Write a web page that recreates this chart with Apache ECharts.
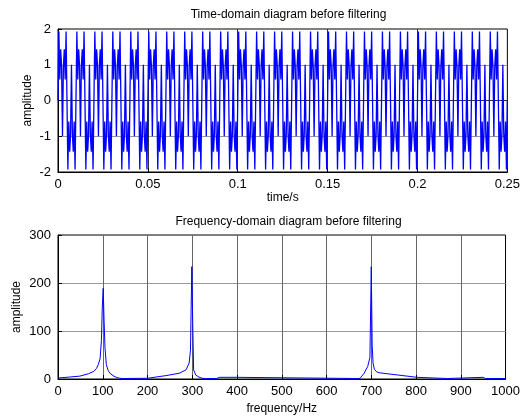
<!DOCTYPE html>
<html>
<head>
<meta charset="utf-8">
<script src="https://cdn.jsdelivr.net/npm/echarts@6/dist/echarts.min.js"></script>
<style>html,body{margin:0;padding:0;background:#fff}#c{width:523px;height:418px}</style>
</head>
<body>
<div id="c"></div>
<script>
// ---- Data ----
const titleTop = 'Time-domain diagram before filtering';
const titleBottom = 'Frequency-domain diagram before filtering';
const sampleRateHz = 2000; // sample spacing of the time signal
// time-domain samples (one sample every 0.5 ms, 0 .. 0.25 s)
const timeSignal = [
0,1.93,0.59,1.43,0.95,-1,0.95,1.43,0.59,1.93,0,-1.93,-0.59,-1.43,-0.95,1,-0.95,-1.43,-0.59,-1.93,
0,1.93,0.59,1.43,0.95,-1,0.95,1.43,0.59,1.93,0,-1.93,-0.59,-1.43,-0.95,1,-0.95,-1.43,-0.59,-1.93,
0,1.93,0.59,1.43,0.95,-1,0.95,1.43,0.59,1.93,0,-1.93,-0.59,-1.43,-0.95,1,-0.95,-1.43,-0.59,-1.93,
0,1.93,0.59,1.43,0.95,-1,0.95,1.43,0.59,1.93,0,-1.93,-0.59,-1.43,-0.95,1,-0.95,-1.43,-0.59,-1.93,
0,1.93,0.59,1.43,0.95,-1,0.95,1.43,0.59,1.93,0,-1.93,-0.59,-1.43,-0.95,1,-0.95,-1.43,-0.59,-1.93,
0,1.93,0.59,1.43,0.95,-1,0.95,1.43,0.59,1.93,0,-1.93,-0.59,-1.43,-0.95,1,-0.95,-1.43,-0.59,-1.93,
0,1.93,0.59,1.43,0.95,-1,0.95,1.43,0.59,1.93,0,-1.93,-0.59,-1.43,-0.95,1,-0.95,-1.43,-0.59,-1.93,
0,1.93,0.59,1.43,0.95,-1,0.95,1.43,0.59,1.93,0,-1.93,-0.59,-1.43,-0.95,1,-0.95,-1.43,-0.59,-1.93,
0,1.93,0.59,1.43,0.95,-1,0.95,1.43,0.59,1.93,0,-1.93,-0.59,-1.43,-0.95,1,-0.95,-1.43,-0.59,-1.93,
0,1.93,0.59,1.43,0.95,-1,0.95,1.43,0.59,1.93,0,-1.93,-0.59,-1.43,-0.95,1,-0.95,-1.43,-0.59,-1.93,
0,1.93,0.59,1.43,0.95,-1,0.95,1.43,0.59,1.93,0,-1.93,-0.59,-1.43,-0.95,1,-0.95,-1.43,-0.59,-1.93,
0,1.93,0.59,1.43,0.95,-1,0.95,1.43,0.59,1.93,0,-1.93,-0.59,-1.43,-0.95,1,-0.95,-1.43,-0.59,-1.93,
0,1.93,0.59,1.43,0.95,-1,0.95,1.43,0.59,1.93,0,-1.93,-0.59,-1.43,-0.95,1,-0.95,-1.43,-0.59,-1.93,
0,1.93,0.59,1.43,0.95,-1,0.95,1.43,0.59,1.93,0,-1.93,-0.59,-1.43,-0.95,1,-0.95,-1.43,-0.59,-1.93,
0,1.93,0.59,1.43,0.95,-1,0.95,1.43,0.59,1.93,0,-1.93,-0.59,-1.43,-0.95,1,-0.95,-1.43,-0.59,-1.93,
0,1.93,0.59,1.43,0.95,-1,0.95,1.43,0.59,1.93,0,-1.93,-0.59,-1.43,-0.95,1,-0.95,-1.43,-0.59,-1.93,
0,1.93,0.59,1.43,0.95,-1,0.95,1.43,0.59,1.93,0,-1.93,-0.59,-1.43,-0.95,1,-0.95,-1.43,-0.59,-1.93,
0,1.93,0.59,1.43,0.95,-1,0.95,1.43,0.59,1.93,0,-1.93,-0.59,-1.43,-0.95,1,-0.95,-1.43,-0.59,-1.93,
0,1.93,0.59,1.43,0.95,-1,0.95,1.43,0.59,1.93,0,-1.93,-0.59,-1.43,-0.95,1,-0.95,-1.43,-0.59,-1.93,
0,1.93,0.59,1.43,0.95,-1,0.95,1.43,0.59,1.93,0,-1.93,-0.59,-1.43,-0.95,1,-0.95,-1.43,-0.59,-1.93,
0,1.93,0.59,1.43,0.95,-1,0.95,1.43,0.59,1.93,0,-1.93,-0.59,-1.43,-0.95,1,-0.95,-1.43,-0.59,-1.93,
0,1.93,0.59,1.43,0.95,-1,0.95,1.43,0.59,1.93,0,-1.93,-0.59,-1.43,-0.95,1,-0.95,-1.43,-0.59,-1.93,
0,1.93,0.59,1.43,0.95,-1,0.95,1.43,0.59,1.93,0,-1.93,-0.59,-1.43,-0.95,1,-0.95,-1.43,-0.59,-1.93,
0,1.93,0.59,1.43,0.95,-1,0.95,1.43,0.59,1.93,0,-1.93,-0.59,-1.43,-0.95,1,-0.95,-1.43,-0.59,-1.93,
0,1.93,0.59,1.43,0.95,-1,0.95,1.43,0.59,1.93,0,-1.93,-0.59,-1.43,-0.95,1,-0.95,-1.43,-0.59,-1.93,
0
];
// spectrum
const specFreqHz = [0,25,49,68,80,86,90,94,97,99,101,103,105,108,112,116,123,130,138,145,
  200,241,271,286,293,296,299,301,303,308,315,322,330,355,360,398,402,
  670,675,684,692,697,700,702,704,707,712,718,744,780,802,806,870,874,950,955,1000];
const specAmp = [2,4,6,11,16,22,30,42,80,150,189,120,65,30,18,12,7,3.5,1.5,1,
  1.5,7,12,19,33,60,234,120,19,8,4,1.5,1,1,3.5,3.5,1,
  1,1.5,12,26,45,234,70,33,20,15,13,10,6,3.5,1,1,3.5,3.5,1,1];
const timeTicks = {min: 0, max: 0.25, step: 0.05};
const ampTicksTop = {min: -2, max: 2, step: 1};
const freqTicks = {min: 0, max: 1000, step: 100};
const ampTicksBottom = {min: 0, max: 300, step: 100};

// ---- Chart ----
const FONT = 'Liberation Sans, Arial, sans-serif';
const timeData = timeSignal.map((v, i) => [i / sampleRateHz, v]);
const specData = specFreqHz.map((f, i) => [f, specAmp[i]]);

function xAxisCfg(gridIndex, t, name, gap, gridColor) {
  return {
    type: 'value', gridIndex, min: t.min, max: t.max, interval: t.step,
    name, nameLocation: 'middle', nameGap: gap,
    nameTextStyle: {color: '#000', fontFamily: FONT, fontSize: 12},
    axisLine: {show: true, onZero: false, lineStyle: {color: '#000', width: 1}},
    axisTick: {show: true, inside: true, length: 4, lineStyle: {color: '#000'}},
    axisLabel: {color: '#000', fontFamily: FONT, fontSize: 13, margin: 6, formatter: v => String(v)},
    splitLine: {show: true, showMinLine: false, showMaxLine: false, lineStyle: {color: gridColor, width: 1}}
  };
}
function yAxisCfg(gridIndex, t, gap, colors) {
  return {
    type: 'value', gridIndex, min: t.min, max: t.max, interval: t.step,
    name: 'amplitude', nameLocation: 'middle', nameGap: gap, nameMoveOverlap: false,
    nameTextStyle: {color: '#000', fontFamily: FONT, fontSize: 12},
    axisLine: {show: true, onZero: false, lineStyle: {color: '#000', width: 1}},
    axisTick: {show: true, inside: true, length: 4, lineStyle: {color: '#000'}},
    axisLabel: {color: '#000', fontFamily: FONT, fontSize: 13, margin: 7, formatter: v => String(v)},
    splitLine: {show: true, showMinLine: false, showMaxLine: false,
      lineStyle: {color: colors, width: 1}}
  };
}

const chart = echarts.init(document.getElementById('c'), null, {renderer: 'canvas'});
chart.setOption({
  animation: false,
  backgroundColor: '#fff',
  title: [
    {text: titleTop, left: 283.5, textAlign: 'center', top: 4,
     textStyle: {fontFamily: FONT, fontSize: 12, fontWeight: 'normal', color: '#000'}},
    {text: titleBottom, left: 283.5, textAlign: 'center', top: 211,
     textStyle: {fontFamily: FONT, fontSize: 12, fontWeight: 'normal', color: '#000'}}
  ],
  grid: [
    {left: 58, top: 29, width: 451, height: 143, show: true, borderColor: '#000', borderWidth: 1, backgroundColor: '#fff'},
    {left: 58, top: 235, width: 451, height: 144, show: true, borderColor: '#000', borderWidth: 1, backgroundColor: '#fff'}
  ],
  xAxis: [
    xAxisCfg(0, timeTicks, 'time/s', 19, '#333'),
    xAxisCfg(1, freqTicks, 'frequency/Hz', 24, '#666')
  ],
  yAxis: [
    yAxisCfg(0, ampTicksTop, 24, ['#999', '#333', '#999', '#999']),
    yAxisCfg(1, ampTicksBottom, 35, '#999')
  ],
  series: [
    {type: 'line', xAxisIndex: 0, yAxisIndex: 0, data: timeData, showSymbol: false, symbol: 'none',
     sampling: null, lineStyle: {color: '#0000ff', width: 1.3}, silent: true},
    {type: 'line', xAxisIndex: 1, yAxisIndex: 1, data: specData, showSymbol: false, symbol: 'none',
     lineStyle: {color: '#0000ff', width: 1}, silent: true}
  ]
});
</script>
</body>
</html>
